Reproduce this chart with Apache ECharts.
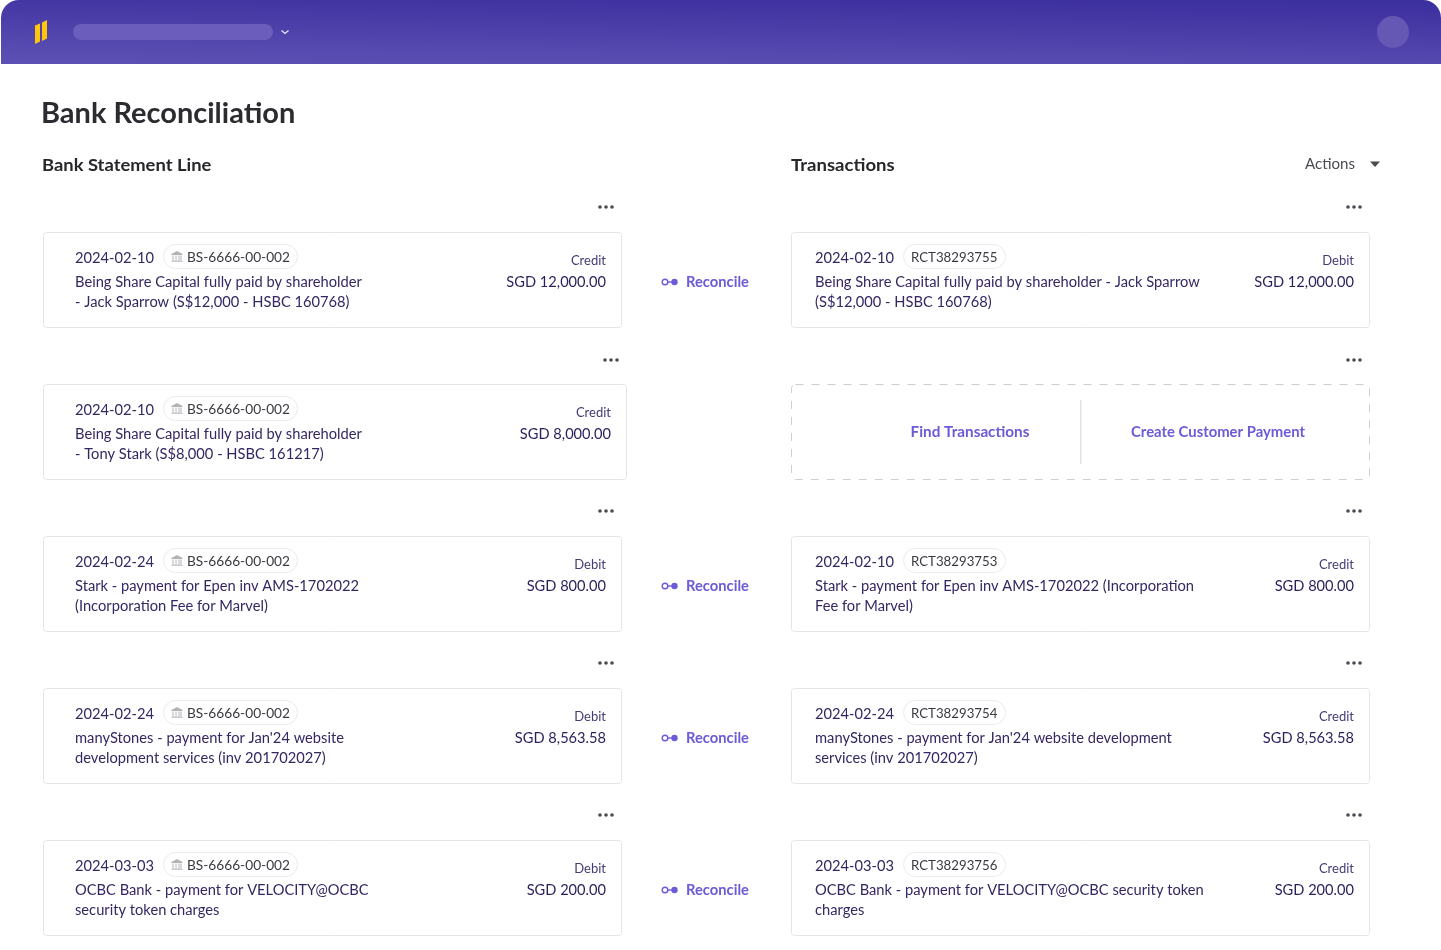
<!DOCTYPE html>
<html>
<head>
<meta charset="utf-8">
<title>Bank Reconciliation</title>
<style>
  html, body { margin: 0; padding: 0; background: #fff; }
  #main { width: 1441px; height: 950px; }
</style>
<script src="https://cdn.jsdelivr.net/npm/echarts@6/dist/echarts.min.js"></script>
</head>
<body>
<div id="main"></div>
<script>
const statementDates = ['2024-02-10', '2024-02-10', '2024-02-24', '2024-02-24', '2024-03-03'];
const statementRefs = ['BS-6666-00-002', 'BS-6666-00-002', 'BS-6666-00-002', 'BS-6666-00-002', 'BS-6666-00-002'];
const statementLines = [
  ['Being Share Capital fully paid by shareholder', '- Jack Sparrow (S$12,000 - HSBC 160768)'],
  ['Being Share Capital fully paid by shareholder', '- Tony Stark (S$8,000 - HSBC 161217)'],
  ['Stark - payment for Epen inv AMS-1702022', '(Incorporation Fee for Marvel)'],
  ['manyStones - payment for Jan\'24 website', 'development services (inv 201702027)'],
  ['OCBC Bank - payment for VELOCITY@OCBC', 'security token charges']
];
const statementTypes = ['Credit', 'Credit', 'Debit', 'Debit', 'Debit'];
const statementAmounts = ['SGD 12,000.00', 'SGD 8,000.00', 'SGD 800.00', 'SGD 8,563.58', 'SGD 200.00'];

const txnDates = ['2024-02-10', null, '2024-02-10', '2024-02-24', '2024-03-03'];
const txnRefs = ['RCT38293755', null, 'RCT38293753', 'RCT38293754', 'RCT38293756'];
const txnLines = [
  ['Being Share Capital fully paid by shareholder - Jack Sparrow', '(S$12,000 - HSBC 160768)'],
  null,
  ['Stark - payment for Epen inv AMS-1702022 (Incorporation', 'Fee for Marvel)'],
  ['manyStones - payment for Jan\'24 website development', 'services (inv 201702027)'],
  ['OCBC Bank - payment for VELOCITY@OCBC security token', 'charges']
];
const txnTypes = ['Debit', null, 'Credit', 'Credit', 'Credit'];
const txnAmounts = ['SGD 12,000.00', null, 'SGD 800.00', 'SGD 8,563.58', 'SGD 200.00'];

const cardTops = [232, 384, 536, 688, 840];
const dotRows = [207, 360, 511, 663, 815];
const FONT = 'Lato, sans-serif';
const INK = '#342763';
const VIOLET = '#6b5bd6';

const els = [];

// letterSpacing is ignored by the canvas text, so widths are matched with scaleX
function text(x, y, str, size, color, sx, extra) {
  els.push({
    type: 'text', x: x, y: y, scaleX: sx || 1,
    style: Object.assign({
      text: str, fontFamily: FONT, fontSize: size, fill: color,
      verticalAlign: 'middle', align: 'left'
    }, extra || {})
  });
}

function box(x, y, w, h, r, style) {
  els.push({ type: 'rect', shape: { x: x, y: y, width: w, height: h, r: r }, style: style });
}

function dots(cx, cy) {
  [-6, 0, 6].forEach((d) => {
    els.push({ type: 'circle', shape: { cx: cx + d, cy: cy, r: 1.8 }, style: { fill: '#4a4a50' } });
  });
}

function bankIcon(x, y) {
  const c = '#b4b4b8';
  els.push({ type: 'polygon', shape: { points: [[x, y + 3], [x + 5.5, y], [x + 11, y + 3], [x + 11, y + 4], [x, y + 4]] }, style: { fill: c } });
  [1, 4, 7, 9].forEach((d) => {
    els.push({ type: 'rect', shape: { x: x + d, y: y + 4.5, width: 1, height: 4.5 }, style: { fill: c } });
  });
  els.push({ type: 'rect', shape: { x: x, y: y + 9.5, width: 11, height: 1.2 }, style: { fill: c } });
}

function card(x, y, w, opts) {
  box(x + 0.5, y + 0.5, w, 95, 3, { fill: '#fff', stroke: '#e4e4e8', lineWidth: 1 });
  const textX = opts.textX;
  text(textX, y + 26.5, opts.date, 14.5, INK, 1.013);
  box(opts.pillX + 0.5, y + 12.5, opts.pillW, 24, 12, { fill: '#fff', stroke: '#ebebef', lineWidth: 1 });
  if (opts.icon) bankIcon(opts.pillX + 8.5, y + 19);
  text(opts.refX, y + 25.5, opts.ref, 13, '#3a3a42', opts.refScale);
  text(textX, y + 50.5, opts.lines[0], 14.5, INK, 1.013);
  text(textX, y + 70.5, opts.lines[1], 14.5, INK, 1.013);
  text(opts.right, y + 29, opts.type, 13, '#443a75', 1, { align: 'right' });
  text(opts.right, y + 50.5, opts.amount, 15, '#2a1f5c', 0.975, { align: 'right' });
}

function reconcile(y) {
  els.push({ type: 'circle', shape: { cx: 665, cy: y, r: 2.8 }, style: { fill: '#fff', stroke: VIOLET, lineWidth: 1.4 } });
  els.push({ type: 'line', shape: { x1: 667, y1: y, x2: 672, y2: y }, style: { stroke: VIOLET, lineWidth: 1.4 } });
  els.push({ type: 'circle', shape: { cx: 674.5, cy: y, r: 3.2 }, style: { fill: VIOLET } });
  text(686, y + 0.5, 'Reconcile', 14.5, VIOLET, 1.016, { fontWeight: 700 });
}

// header band
box(1, 0, 1440, 64, [18, 18, 0, 0], {
  fill: new echarts.graphic.LinearGradient(0, 1, 0.0008, -0.3125, [
    { offset: 0, color: '#5e51b4' },
    { offset: 1, color: '#3b2e9e' }
  ])
});
els.push({ type: 'polygon', shape: { points: [[35, 25.5], [40, 23.5], [40, 41.5], [35, 44]] }, style: { fill: '#ffc60a' } });
els.push({ type: 'polygon', shape: { points: [[42, 22.5], [47, 20], [47, 38.5], [42, 41]] }, style: { fill: '#ffc60a' } });
box(73, 24, 200, 16, 8, { fill: '#6b5dbb' });
els.push({ type: 'polyline', shape: { points: [[281.5, 30.5], [285, 33.5], [288.5, 30.5]] }, style: { stroke: '#eeecf8', lineWidth: 1.2, fill: null } });
els.push({ type: 'circle', shape: { cx: 1393, cy: 32, r: 16 }, style: { fill: '#6557b4' } });

// headings
text(41, 114, 'Bank Reconciliation', 28, '#2b2b30', 1.035, { fontWeight: 700 });
text(42, 165, 'Bank Statement Line', 17.5, '#26262b', 1.05, { fontWeight: 700 });
text(791, 165, 'Transactions', 17.5, '#26262b', 1.06, { fontWeight: 700 });
text(1305, 164.5, 'Actions', 14.5, '#4a4a50', 1.04);
els.push({ type: 'polygon', shape: { points: [[1370, 161.5], [1380, 161.5], [1375, 167]] }, style: { fill: '#4a4a50' } });

// rows
cardTops.forEach((y, i) => {
  const wide = i === 1;
  dots(wide ? 611 : 606, dotRows[i]);
  dots(1354, dotRows[i]);
  card(43, y, wide ? 583 : 578, {
    textX: 75, pillX: 163, pillW: 134, refX: 187, icon: true, refScale: 1.053,
    date: statementDates[i], ref: statementRefs[i], lines: statementLines[i],
    type: statementTypes[i], amount: statementAmounts[i], right: wide ? 611 : 606
  });
  if (txnLines[i]) {
    reconcile(y + 50);
    card(791, y, 578, {
      textX: 815, pillX: 903, pillW: 102, refX: 911, icon: false, refScale: 1.02,
      date: txnDates[i], ref: txnRefs[i], lines: txnLines[i],
      type: txnTypes[i], amount: txnAmounts[i], right: 1354
    });
  } else {
    box(791.5, y + 0.5, 578, 95, 4, { fill: '#fff', stroke: '#cfcfd3', lineWidth: 1, lineDash: [8, 8] });
    els.push({ type: 'rect', shape: { x: 1080, y: y + 16, width: 1.5, height: 64 }, style: { fill: '#e2e2e4' } });
    text(970, y + 48.5, 'Find Transactions', 14.5, VIOLET, 1.053, { align: 'center', fontWeight: 700 });
    text(1218, y + 48.5, 'Create Customer Payment', 14.5, VIOLET, 1.024, { align: 'center', fontWeight: 700 });
  }
});

const chart = echarts.init(document.getElementById('main'), null, { renderer: 'canvas' });
chart.setOption({
  animation: false,
  backgroundColor: '#fff',
  graphic: { elements: els }
});
</script>
</body>
</html>
